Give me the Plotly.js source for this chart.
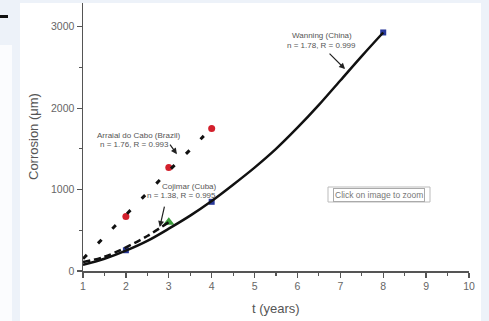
<!DOCTYPE html>
<html>
<head>
<meta charset="utf-8">
<script src="https://cdn.plot.ly/plotly-3.0.1.min.js"></script>
<style>
  html, body { margin:0; padding:0; width:489px; height:321px; overflow:hidden; background:#edf2f9; }
  #wrap { position:relative; width:489px; height:321px; }
  .bg { position:absolute; background:#ffffff; }
  #chart { position:absolute; left:0; top:0; width:489px; height:321px; }
</style>
</head>
<body>
<div id="wrap">
  <div class="bg" style="left:20px; top:3px; width:461px; height:318px;"></div>
  <div class="bg" style="left:0px; top:45px; width:12px; height:276px; background:#fbfcfe;"></div>
  <div style="position:absolute; left:0px; top:15px; width:8px; height:3px; background:#111;"></div>
  <div id="chart"></div>
</div>
<script>
// ---- data ----
const chinaT   = [1, 1.5, 2, 2.5, 3, 3.5, 4, 4.5, 5, 5.5, 6, 6.5, 7, 7.5, 8];
const chinaFit = [75, 150, 250, 370, 520, 680, 860, 1060, 1270, 1500, 1760, 2040, 2340, 2640, 2930];
const brazilT   = [1, 1.5, 2, 2.5, 3, 3.5, 4];
const brazilFit = [150, 420, 690, 960, 1230, 1490, 1760];
const cubaT   = [1, 1.5, 2, 2.5, 3];
const cubaFit = [110, 175, 290, 430, 600];
const brazilObsT = [2, 3, 4];
const brazilObs  = [670, 1270, 1750];
const chinaObsT = [2, 4, 8];
const chinaObs  = [255, 850, 2930];
const cubaObsT = [3];
const cubaObs  = [600];
const xTicks = [1, 2, 3, 4, 5, 6, 7, 8, 9, 10];
const yTicks = [0, 1000, 2000, 3000];

const traces = [
  {x: brazilObsT, y: brazilObs, mode: 'markers', type: 'scatter',
   marker: {color: '#d3202c', size: 7, symbol: 'circle'}},
  {x: cubaObsT, y: cubaObs, mode: 'markers', type: 'scatter',
   marker: {color: '#3d9e3d', size: 10, symbol: 'triangle-up'}},
  {x: chinaObsT, y: chinaObs, mode: 'markers', type: 'scatter',
   marker: {color: '#28389a', size: 6, symbol: 'square'}},
  {x: brazilT, y: brazilFit, mode: 'lines', type: 'scatter',
   line: {color: '#111', width: 3, dash: '5px,16px', shape: 'spline'}},
  {x: cubaT, y: cubaFit, mode: 'lines', type: 'scatter',
   line: {color: '#111', width: 2.5, dash: '7px,4px', shape: 'spline'}},
  {x: chinaT, y: chinaFit, mode: 'lines', type: 'scatter',
   line: {color: '#111', width: 2.5, shape: 'spline'}}
];

const txt = (s, x, y) => ({text: s, x: x, y: y, xref: 'x', yref: 'y', showarrow: false,
  xanchor: 'center', yanchor: 'middle',
  font: {family: 'Liberation Sans, Arial, sans-serif', size: 8, color: '#555'}});
const arr = (x, y, ax, ay) => ({text: '', x: x, y: y, xref: 'x', yref: 'y', ax: ax, ay: ay,
  showarrow: true, arrowhead: 2, arrowsize: 1, arrowwidth: 1.2, arrowcolor: '#222'});

const layout = {
  width: 489, height: 321,
  margin: {l: 83, r: 20, t: 3, b: 50, pad: 0},
  paper_bgcolor: 'rgba(0,0,0,0)', plot_bgcolor: 'rgba(0,0,0,0)',
  showlegend: false,
  font: {family: 'Liberation Sans, Arial, sans-serif', color: '#666'},
  xaxis: {range: [1, 10], tickvals: xTicks, ticktext: xTicks.map(String),
    showline: true, linecolor: '#555', linewidth: 1.5, showgrid: false, zeroline: false,
    ticks: 'outside', ticklen: 5, tickwidth: 1.3, tickcolor: '#555',
    minor: {dtick: 0.5, ticks: 'outside', ticklen: 3, tickwidth: 1.2, tickcolor: '#555', showgrid: false},
    tickfont: {size: 10.5, color: '#666'}},
  yaxis: {range: [0, 3292], tickvals: yTicks, ticktext: yTicks.map(String),
    showline: true, linecolor: '#555', linewidth: 1.5, showgrid: false, zeroline: false,
    ticks: 'outside', ticklen: 5, tickwidth: 1.3, tickcolor: '#555',
    minor: {dtick: 500, ticks: 'outside', ticklen: 3, tickwidth: 1.2, tickcolor: '#555', showgrid: false},
    tickfont: {size: 10.5, color: '#666'}},
  annotations: [
    {text: 't (years)', xref: 'paper', yref: 'paper', x: 0.5, y: (271 - 308) / 268,
     xanchor: 'center', yanchor: 'middle', showarrow: false,
     font: {size: 13, color: '#555'}},
    {text: 'Corrosion (\u03bcm)', xref: 'paper', yref: 'paper', x: (33 - 83) / 386, y: 0.5, textangle: -90,
     xanchor: 'center', yanchor: 'middle',
     showarrow: false, font: {size: 13, color: '#555'}},
    txt('Wanning (China)', 6.58, 2890),
    txt('n = 1.78, R = 0.999', 6.55, 2765),
    txt('Arraial do Cabo (Brazil)', 2.29, 1670),
    txt('n = 1.76, R = 0.993', 2.21, 1560),
    txt('Cojimar (Cuba)', 3.49, 1040),
    txt('n = 1.38, R = 0.995', 3.30, 930),
    arr(7.11, 2480, -17, -17),
    arr(3.19, 1435, -8, -11),
    arr(2.79, 540, 5, -22),
    {text: 'Click on image to zoom', xref: 'paper', yref: 'paper',
     x: (379 - 83) / 386, y: (271 - 194.5) / 268, xanchor: 'center', yanchor: 'middle', showarrow: false,
     bgcolor: '#ffffff', bordercolor: '#aaa', borderwidth: 1, borderpad: 1,
     font: {size: 8.5, color: '#777'}}
  ],
  shapes: [
    {type: 'rect', xref: 'paper', yref: 'paper', layer: 'below',
     x0: (328 - 83) / 386, x1: (430 - 83) / 386, y0: (271 - 202) / 268, y1: (271 - 187) / 268,
     line: {color: '#bbb', width: 1}, fillcolor: '#ffffff'}
  ]
};

Plotly.newPlot('chart', traces, layout, {displayModeBar: false, staticPlot: true});
</script>
</body>
</html>
